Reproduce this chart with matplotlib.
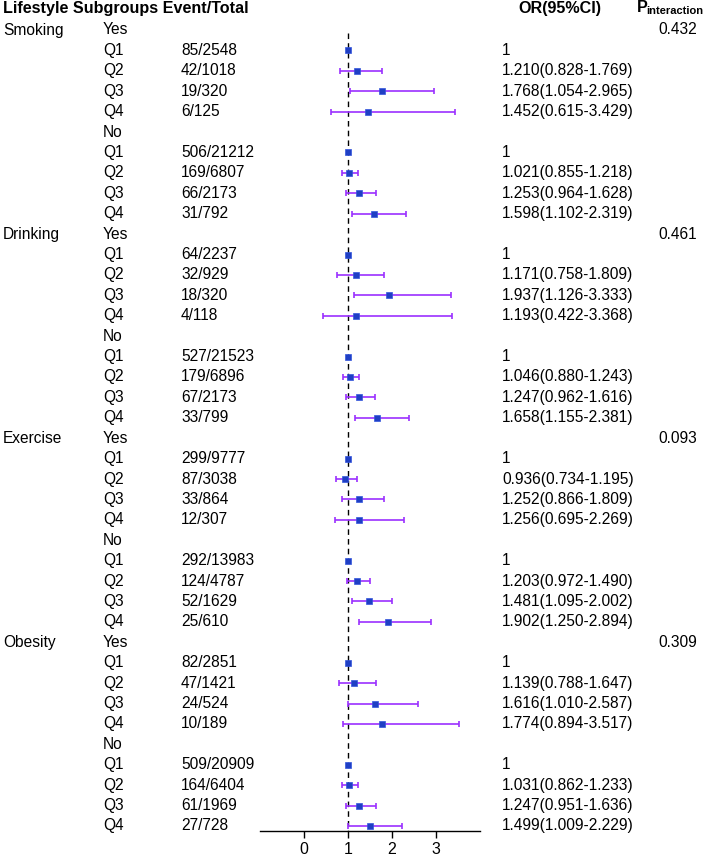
import matplotlib
matplotlib.use('Agg')
from matplotlib import pyplot as plt
from matplotlib.transforms import blended_transform_factory

plt.rcParams['font.family'] = ['Liberation Sans', 'DejaVu Sans']

groups = ['Smoking', 'Drinking', 'Exercise', 'Obesity']
levels = ['Yes', 'No']
quartiles = ['Q1', 'Q2', 'Q3', 'Q4']
p_interaction = ['0.432', '0.461', '0.093', '0.309']

events = ['85/2548', '42/1018', '19/320', '6/125',
          '506/21212', '169/6807', '66/2173', '31/792',
          '64/2237', '32/929', '18/320', '4/118',
          '527/21523', '179/6896', '67/2173', '33/799',
          '299/9777', '87/3038', '33/864', '12/307',
          '292/13983', '124/4787', '52/1629', '25/610',
          '82/2851', '47/1421', '24/524', '10/189',
          '509/20909', '164/6404', '61/1969', '27/728']
odds = [1, 1.210, 1.768, 1.452, 1, 1.021, 1.253, 1.598,
        1, 1.171, 1.937, 1.193, 1, 1.046, 1.247, 1.658,
        1, 0.936, 1.252, 1.256, 1, 1.203, 1.481, 1.902,
        1, 1.139, 1.616, 1.774, 1, 1.031, 1.247, 1.499]
ci_low = [1, 0.828, 1.054, 0.615, 1, 0.855, 0.964, 1.102,
          1, 0.758, 1.126, 0.422, 1, 0.880, 0.962, 1.155,
          1, 0.734, 0.866, 0.695, 1, 0.972, 1.095, 1.250,
          1, 0.788, 1.010, 0.894, 1, 0.862, 0.951, 1.009]
ci_high = [1, 1.769, 2.965, 3.429, 1, 1.218, 1.628, 2.319,
           1, 1.809, 3.333, 3.368, 1, 1.243, 1.616, 2.381,
           1, 1.195, 1.809, 2.269, 1, 1.490, 2.002, 2.894,
           1, 1.647, 2.587, 3.517, 1, 1.233, 1.636, 2.229]

W, H = 706, 856
fig = plt.figure(figsize=(W / 100, H / 100), dpi=100)

# forest axes: x from -1 to 4 spans pixels 260..480, rows 0..39 at 30..826 px
row0, step, axis_y = 30, 20.41, 831
ax = fig.add_axes([260 / W, (H - axis_y) / H, 220 / W, axis_y / H])
ax.set_xlim(-1, 4)
ax.set_ylim((axis_y - row0) / step, -row0 / step)
for s in ['top', 'right', 'left']:
    ax.spines[s].set_visible(False)
ax.spines['bottom'].set_linewidth(1.0)
ax.set_yticks([])
ax.set_xticks([0, 1, 2, 3])
ax.tick_params(axis='x', length=5, width=1.0, pad=3, labelsize=11.5)

tr = blended_transform_factory(fig.transFigure, ax.transData)
fs = 11.2

def txt(xpix, row, s, **kw):
    ax.text(xpix / W, row, s, transform=tr, fontsize=kw.pop('fontsize', fs),
            va='center', clip_on=False, **kw)

# header
hdr = -(row0 - 8) / step
txt(3, hdr, 'Lifestyle Subgroups Event/Total', fontweight='bold', fontsize=11.6)
txt(518, hdr, 'OR(95%CI)', fontweight='bold', fontsize=11.6)
txt(637, hdr, 'P', fontweight='bold', fontsize=11.6)
txt(646, hdr + 0.17, 'interaction', fontweight='bold', fontsize=8)

ax.plot([1, 1], [0.15, (axis_y - row0) / step], ls=(0, (4, 3)), color='black', lw=1.0)

row = 0
k = 0
for g, grp in enumerate(groups):
    for l, lev in enumerate(levels):
        if l == 0:
            txt(3, row, grp)
            txt(697, row, p_interaction[g], ha='right')
        txt(103, row, lev)
        row += 1
        for q in quartiles:
            txt(103, row, q)
            txt(181, row, events[k])
            if ci_high[k] > ci_low[k]:
                lbl = '%.3f(%.3f-%.3f)' % (odds[k], ci_low[k], ci_high[k])
                ax.errorbar(odds[k], row,
                            xerr=[[odds[k] - ci_low[k]], [ci_high[k] - odds[k]]],
                            fmt='none', ecolor='#9b30ff', elinewidth=1.2,
                            capsize=1.9, capthick=1.2, zorder=2)
                ms = 4.6
            else:
                lbl = '1'
                ms = 4.0
            ax.plot(odds[k], row, 's', color='#1f3fc4', ms=ms, mec='#3355dd',
                    mew=0.5, zorder=3)
            txt(502, row, lbl)
            row += 1
            k += 1

fig.savefig('out.png', dpi=100)
